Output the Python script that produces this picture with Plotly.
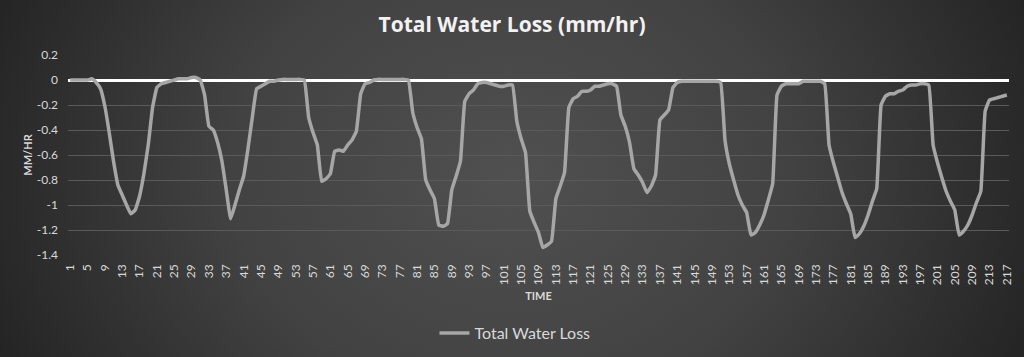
import base64
import plotly.graph_objects as go

series_name = "Total Water Loss"
water_loss = [
    0, 0, 0, 0, 0, 0.01, -0.02, -0.07, -0.21, -0.42,            # 1-10
    -0.65, -0.84, -0.92, -1.0, -1.07, -1.04, -0.93, -0.75, -0.52, -0.22,  # 11-20
    -0.06, -0.03, -0.02, -0.01, 0.0, 0.01, 0.01, 0.01, 0.02, 0.02,  # 21-30
    0.0, -0.12, -0.37, -0.40, -0.50, -0.65, -0.88, -1.11, -1.0, -0.88,  # 31-40
    -0.77, -0.55, -0.3, -0.07, -0.05, -0.03, -0.01, -0.01, 0.0, 0.005,  # 41-50
    0.005, 0.005, 0.005, 0.005, 0.0, -0.3, -0.42, -0.52, -0.81, -0.79,  # 51-60
    -0.75, -0.57, -0.56, -0.57, -0.52, -0.48, -0.41, -0.11, -0.03, -0.02,  # 61-70
    0.0, 0.005, 0.005, 0.005, 0.005, 0.005, 0.005, 0.005, 0.0, -0.26,  # 71-80
    -0.38, -0.47, -0.8, -0.88, -0.95, -1.16, -1.17, -1.15, -0.88, -0.77,  # 81-90
    -0.65, -0.17, -0.11, -0.08, -0.03, -0.02, -0.02, -0.03, -0.04, -0.05,  # 91-100
    -0.05, -0.04, -0.04, -0.33, -0.47, -0.58, -1.05, -1.14, -1.22, -1.34,  # 101-110
    -1.32, -1.29, -0.95, -0.85, -0.74, -0.22, -0.15, -0.13, -0.09, -0.09,  # 111-120
    -0.08, -0.05, -0.05, -0.04, -0.03, -0.03, -0.05, -0.28, -0.37, -0.5,  # 121-130
    -0.71, -0.76, -0.82, -0.9, -0.85, -0.76, -0.32, -0.28, -0.24, -0.06,  # 131-140
    -0.02, -0.01, -0.01, -0.01, -0.01, -0.01, -0.01, -0.01, -0.01, -0.01,  # 141-150
    -0.02, -0.48, -0.67, -0.8, -0.92, -1.0, -1.06, -1.24, -1.22, -1.16,  # 151-160
    -1.08, -0.96, -0.83, -0.12, -0.05, -0.03, -0.03, -0.03, -0.03, -0.01,  # 161-170
    -0.01, -0.01, -0.01, -0.01, -0.03, -0.52, -0.66, -0.78, -0.9, -0.99,  # 171-180
    -1.07, -1.26, -1.23, -1.17, -1.08, -0.97, -0.87, -0.2, -0.13, -0.11,  # 181-190
    -0.11, -0.09, -0.08, -0.05, -0.04, -0.04, -0.03, -0.03, -0.04, -0.52,  # 191-200
    -0.66, -0.78, -0.89, -0.97, -1.04, -1.24, -1.21, -1.16, -1.08, -0.98,  # 201-210
    -0.89, -0.25, -0.16, -0.15, -0.14, -0.13, -0.12,                    # 211-217
]
time = list(range(1, len(water_loss) + 1))
x_tick_values = list(range(1, len(water_loss) + 1, 4))
y_tick_values = [0.2, 0, -0.2, -0.4, -0.6, -0.8, -1, -1.2, -1.4]
y_tick_labels = ["0.2", "0", "-0.2", "-0.4", "-0.6", "-0.8", "-1", "-1.2", "-1.4"]

W, H = 1024, 357
ML, MR, MT, MB = 68, 15, 55, 102
PW, PH = W - ML - MR, H - MT - MB

# Radial-gradient background (Excel dark style)
svg = f"""<svg xmlns='http://www.w3.org/2000/svg' width='{W}' height='{H}' viewBox='0 0 {W} {H}' preserveAspectRatio='none'>
<defs><radialGradient id='g' cx='512' cy='175' r='560' gradientUnits='userSpaceOnUse'
 gradientTransform='translate(512 175) scale(1 0.8) translate(-512 -175)'>
<stop offset='0' stop-color='#505050'/><stop offset='0.5' stop-color='#424242'/>
<stop offset='1' stop-color='#242424'/></radialGradient></defs>
<rect width='{W}' height='{H}' fill='url(#g)'/></svg>"""
bg_uri = "data:image/svg+xml;base64," + base64.b64encode(svg.encode()).decode()

font_family = "Lato, 'Open Sans', sans-serif"

fig = go.Figure()
fig.add_trace(go.Scatter(
    x=time, y=water_loss, mode="lines", name=series_name,
    line=dict(color="#a6a6a6", width=3.5, shape="spline", smoothing=0.3),
))

fig.update_layout(
    width=W, height=H,
    margin=dict(l=ML, r=MR, t=MT, b=MB, autoexpand=False),
    paper_bgcolor="#2a2a2a", plot_bgcolor="rgba(0,0,0,0)",
    images=[dict(source=bg_uri, xref="paper", yref="paper", x=-ML / PW, y=1 + MT / PH,
                 sizex=W / PW, sizey=H / PH, xanchor="left", yanchor="top",
                 sizing="stretch", layer="below")],
    title=dict(text="<b>Total Water Loss (mm/hr)</b>", x=0.5, xanchor="center",
               y=1 - 25 / H, yanchor="middle",
               font=dict(family="'Open Sans', sans-serif", size=21, color="#f2f2f2")),
    font=dict(family=font_family, color="#d9d9d9"),
    showlegend=True,
    legend=dict(orientation="h", x=0.475, xanchor="center", y=-0.39, yanchor="middle",
                font=dict(size=16, color="#d9d9d9"), bgcolor="rgba(0,0,0,0)"),
    xaxis=dict(range=[0.5, len(water_loss) + 0.5], tickmode="array", tickvals=x_tick_values,
               ticktext=[str(v) for v in x_tick_values], tickangle=-90, automargin=False,
               tickfont=dict(size=12, color="#d9d9d9"), showgrid=False, zeroline=False,
               showline=False, ticks="", ticklabelstandoff=6,
               title=dict(text="<b>TIME</b>", font=dict(size=11, color="#d9d9d9"), standoff=8)),
    yaxis=dict(range=[-1.4, 0.2], tickmode="array", tickvals=y_tick_values, ticktext=y_tick_labels,
               automargin=False,
               tickfont=dict(size=12, color="#d9d9d9"), showgrid=True, gridcolor="#5a5a5a",
               gridwidth=1, zeroline=True, zerolinecolor="#ffffff", zerolinewidth=3,
               showline=False, ticks="", ticklabelstandoff=9,
               title=dict(text="<b>MM/HR</b>", font=dict(size=11, color="#d9d9d9"), standoff=1)),
)

fig.write_html("out.html", config={"displayModeBar": False},
               post_script="document.body.style.margin='0px';")
